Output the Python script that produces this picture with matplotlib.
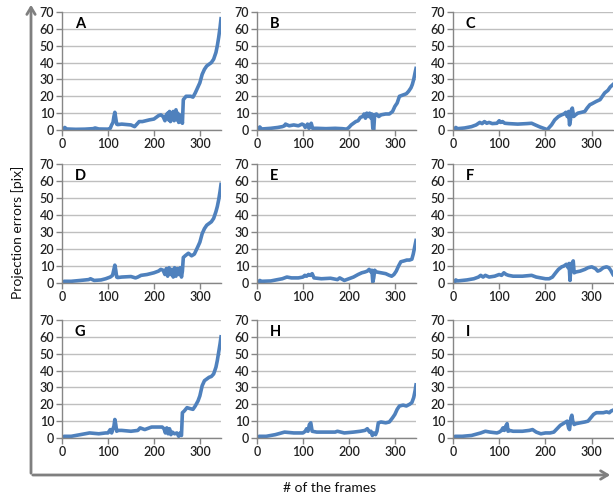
import matplotlib
matplotlib.use("Agg")
import matplotlib.pyplot as plt
from matplotlib.patches import FancyArrowPatch

# ---------------- data (frame index, projection error in pix) ----------------
a_x = [0, 4, 6, 10, 30, 50, 68, 72, 80, 100, 105, 108, 111, 113, 115, 117, 119, 121, 130, 150, 158, 163, 168, 175, 190, 200,
       205, 210, 215, 220, 224, 227, 230, 232, 234, 236, 238, 240, 242, 244, 246, 248, 250, 252, 254, 256, 258, 260, 262,
       264, 270, 280, 285, 290, 295, 300, 305, 310, 315, 320, 325, 330, 335, 338, 341, 344, 346]
a_y = [0.5, 0.8, 1.5, 0.6, 0.4, 0.5, 0.8, 1.2, 0.6, 0.5, 1.0, 3.0, 4.5, 8.0, 10.5, 7.0, 3.5, 3.2, 3.5, 3.0, 2.0, 3.5, 5.0, 5.0, 6.0, 6.5,
       7.5, 8.5, 9.0, 8.0, 5.5, 9.0, 10.0, 6.0, 11.0, 5.0, 10.0, 7.0, 11.0, 5.5, 9.0, 12.0, 6.0, 10.0, 4.5, 9.0, 5.0, 8.0, 4.0,
       18.0, 20.0, 20.0, 19.5, 22.0, 25.0, 28.0, 33.0, 36.0, 38.0, 39.0, 40.0, 42.0, 46.0, 50.0, 55.0, 61.0, 66.0]

b_x = [0, 4, 6, 10, 30, 45, 55, 60, 62, 70, 80, 90, 98, 102, 105, 110, 113, 116, 118, 121, 130, 150, 170, 185, 195, 200,
       205, 210, 215, 220, 225, 230, 233, 236, 239, 242, 245, 248, 250, 252, 254, 256, 260, 265, 270, 280, 288, 295, 300,
       305, 310, 315, 320, 325, 330, 335, 338, 341, 344, 346]
b_y = [0.5, 0.8, 1.8, 0.6, 1.0, 1.5, 2.0, 2.5, 3.5, 2.5, 3.0, 2.5, 3.5, 3.0, 1.5, 3.5, 1.0, 3.0, 4.0, 1.0, 1.0, 0.8, 1.0, 0.8, 0.5, 1.5,
       3.0, 4.0, 5.0, 5.5, 7.5, 8.0, 9.5, 7.0, 10.0, 8.0, 10.0, 7.0, 9.5, 1.0, 0.0, 9.0, 9.5, 8.0, 9.0, 9.5, 9.5, 11.0, 14.0,
       16.0, 20.0, 20.5, 21.0, 21.5, 23.0, 25.0, 27.0, 30.0, 34.0, 36.5]

c_x = [0, 4, 6, 10, 25, 40, 50, 58, 63, 68, 73, 78, 85, 95, 100, 103, 107, 112, 120, 140, 160, 170, 178, 188, 198, 204,
       208, 213, 220, 228, 235, 240, 244, 247, 250, 252, 254, 256, 258, 261, 265, 270, 278, 285, 290, 296, 300, 310, 318,
       323, 328, 335, 340, 346]
c_y = [0.5, 0.8, 1.5, 0.8, 1.2, 2.0, 3.0, 4.5, 3.8, 5.0, 4.0, 4.5, 3.8, 4.0, 5.5, 4.5, 5.0, 4.0, 3.8, 3.5, 3.8, 4.0, 3.0, 1.8, 0.8, 0.2,
       1.5, 3.0, 6.0, 8.0, 9.0, 9.5, 10.5, 8.0, 11.0, 3.0, 6.0, 12.0, 13.0, 8.0, 9.0, 10.0, 10.5, 11.0, 13.0, 15.0, 15.5, 17.0,
       18.0, 20.0, 22.0, 23.5, 25.5, 27.0]

d_x = [0, 5, 20, 40, 58, 62, 70, 85, 95, 100, 105, 110, 113, 115, 117, 119, 121, 130, 150, 160, 165, 172, 185, 200, 210,
       215, 220, 224, 227, 230, 233, 236, 239, 242, 245, 248, 251, 254, 257, 260, 262, 264, 268, 275, 282, 288, 295, 300,
       305, 310, 315, 320, 325, 330, 335, 338, 341, 344, 346]
d_y = [0.5, 1.0, 1.0, 1.5, 2.0, 2.5, 1.5, 1.8, 2.5, 3.0, 3.5, 4.5, 8.0, 10.5, 7.5, 3.5, 3.2, 3.5, 3.8, 3.0, 3.5, 4.5, 5.0, 6.0, 7.0,
       8.0, 7.5, 5.0, 8.5, 4.0, 9.0, 5.0, 8.0, 3.5, 9.0, 4.0, 8.5, 5.0, 9.0, 3.5, 7.0, 15.0, 16.0, 17.5, 16.0, 17.0, 21.0,
       24.0, 29.0, 32.0, 34.0, 35.0, 36.0, 38.0, 42.0, 45.0, 49.0, 54.0, 58.0]

e_x = [0, 4, 6, 10, 30, 45, 55, 60, 65, 75, 90, 100, 104, 108, 112, 116, 120, 124, 140, 160, 175, 180, 190, 200, 210,
       220, 228, 235, 240, 244, 248, 250, 252, 254, 256, 260, 270, 280, 288, 293, 298, 303, 308, 313, 320, 326, 332, 337,
       340, 343, 346]
e_y = [0.5, 0.8, 1.5, 1.0, 1.2, 2.0, 2.5, 3.0, 3.5, 3.0, 3.0, 3.5, 4.5, 4.0, 5.0, 4.5, 5.5, 3.0, 2.5, 2.8, 2.0, 3.0, 1.5, 2.5, 3.5,
       5.0, 6.0, 6.5, 7.0, 8.0, 6.5, 7.5, 0.5, 3.0, 7.5, 6.5, 6.0, 5.5, 4.5, 4.0, 5.0, 7.0, 10.0, 12.5, 13.0, 13.5, 13.5,
       14.0, 17.0, 21.0, 25.0]

f_x = [0, 4, 6, 10, 30, 45, 55, 60, 65, 70, 78, 90, 100, 105, 110, 115, 120, 130, 150, 170, 180, 190, 200, 208, 215,
       222, 228, 235, 240, 245, 249, 251, 253, 255, 258, 260, 262, 266, 275, 285, 292, 300, 308, 313, 318, 325, 332, 337,
       341, 346]
f_y = [0.5, 0.8, 1.8, 1.2, 1.8, 2.5, 3.5, 4.5, 3.5, 4.5, 3.5, 4.0, 5.0, 4.5, 6.0, 5.0, 4.5, 4.0, 4.0, 4.5, 3.5, 3.0, 2.5, 2.5, 3.5,
       6.0, 8.0, 9.5, 10.0, 11.0, 9.0, 11.5, 1.5, 10.0, 12.0, 13.0, 6.0, 6.5, 7.0, 8.0, 9.0, 9.5, 8.5, 7.0, 7.5, 9.0, 9.5,
       9.0, 7.5, 5.0]

g_x = [0, 5, 20, 40, 60, 80, 95, 100, 105, 108, 111, 113, 115, 117, 119, 122, 130, 150, 165, 170, 180, 195, 210, 218,
       222, 225, 228, 231, 234, 237, 240, 245, 250, 254, 257, 260, 262, 266, 272, 278, 285, 290, 296, 300, 305, 310, 315,
       320, 325, 330, 335, 338, 341, 344, 346]
g_y = [0.5, 1.0, 1.0, 2.0, 3.0, 2.5, 3.0, 3.0, 5.0, 3.0, 5.5, 7.0, 11.0, 8.0, 4.0, 4.5, 4.5, 4.0, 4.5, 6.0, 5.0, 6.5, 6.5, 6.5,
       5.5, 3.0, 6.0, 2.5, 5.5, 2.0, 3.5, 2.5, 3.0, 1.0, 3.0, 1.5, 15.0, 16.0, 18.0, 17.5, 17.0, 19.0, 22.0, 25.0, 31.0,
       34.0, 35.0, 36.0, 36.5, 38.0, 42.0, 46.0, 51.0, 56.0, 60.0]

h_x = [0, 5, 20, 40, 60, 80, 100, 105, 108, 111, 114, 117, 120, 130, 150, 170, 175, 190, 210, 225, 235, 240, 245, 248,
       251, 254, 258, 261, 264, 270, 280, 288, 295, 300, 305, 310, 318, 325, 332, 337, 341, 344, 346]
h_y = [0.5, 1.0, 1.0, 2.0, 3.5, 3.0, 3.0, 4.0, 5.5, 4.0, 8.0, 9.0, 4.0, 3.5, 3.5, 3.5, 4.0, 3.0, 3.5, 4.0, 4.5, 5.5, 3.5, 4.0,
       1.5, 3.0, 2.0, 4.0, 9.0, 9.5, 9.0, 9.5, 12.0, 14.0, 17.0, 19.0, 19.5, 19.0, 20.0, 21.0, 24.0, 28.0, 31.5]

i_x = [0, 5, 20, 40, 60, 70, 80, 95, 100, 105, 108, 111, 114, 117, 119, 122, 130, 150, 165, 172, 180, 190, 200, 210,
       218, 225, 232, 238, 244, 247, 250, 252, 255, 257, 259, 262, 266, 275, 285, 292, 298, 304, 310, 318, 325, 332, 338,
       342, 346]
i_y = [0.5, 1.0, 1.0, 1.5, 3.0, 4.0, 3.5, 3.0, 3.5, 4.5, 6.0, 4.5, 7.0, 8.5, 4.0, 4.5, 4.0, 4.0, 4.5, 5.0, 3.5, 2.5, 3.0, 3.0,
       3.5, 5.5, 7.5, 8.5, 9.5, 10.0, 6.0, 5.0, 12.0, 13.5, 10.0, 8.0, 8.5, 9.0, 9.5, 10.0, 12.0, 14.0, 15.0, 15.0, 15.0,
       15.5, 15.0, 16.0, 16.5]

panel_labels = ["A", "B", "C", "D", "E", "F", "G", "H", "I"]
series_x = [a_x, b_x, c_x, d_x, e_x, f_x, g_x, h_x, i_x]
series_y = [a_y, b_y, c_y, d_y, e_y, f_y, g_y, h_y, i_y]
x_ticks = [0, 100, 200, 300]
y_ticks = [0, 10, 20, 30, 40, 50, 60, 70]
x_title = "# of the frames"
y_title = "Projection errors [pix]"

# ---------------- layout ----------------
W, H = 614, 500
plt.rcParams['font.family'] = ['Lato', 'DejaVu Sans']
fig = plt.figure(figsize=(W / 100, H / 100), dpi=100)

col_left = [62, 257, 453]
col_right = [221, 416, 613]
row_top = [12, 164, 320]
row_bot = [130, 283, 438]

line_color = "#4F81BD"
grid_color = "#BFBFBF"
axis_color = "#868686"

for k in range(9):
    r, c = divmod(k, 3)
    l, rt = col_left[c], col_right[c]
    t, b = row_top[r], row_bot[r]
    ax = fig.add_axes([l / W, 1 - b / H, (rt - l) / W, (b - t) / H])
    ax.plot(series_x[k], series_y[k], color=line_color, lw=2.6, solid_joinstyle="round")
    ax.set_xlim(0, 346)
    ax.set_ylim(0, 70)
    ax.set_xticks(x_ticks)
    ax.set_yticks(y_ticks)
    ax.yaxis.grid(True, color=grid_color, lw=1.0)
    ax.set_axisbelow(True)
    for s in ["top", "right"]:
        ax.spines[s].set_visible(False)
    ax.spines["left"].set_color(axis_color)
    ax.spines["bottom"].set_color(axis_color)
    ax.spines["left"].set_linewidth(1.0)
    ax.spines["bottom"].set_linewidth(1.0)
    ax.tick_params(axis="both", colors=axis_color, labelcolor="#222222", labelsize=9, length=4, width=1.0, pad=2)
    ax.tick_params(axis="y", pad=1.5)
    ax.text(0.08, 0.96, panel_labels[k], transform=ax.transAxes, ha="left", va="top",
            fontsize=10.5, fontweight="bold", color="#000000")
    for lab in ax.get_xticklabels() + ax.get_yticklabels():
        lab.set_fontweight("semibold")

# big gray arrows
arr_color = "#7F7F7F"
fig.add_artist(FancyArrowPatch((31 / W, 1 - 476 / H), (31 / W, 1 - 2 / H), transform=fig.transFigure,
                               arrowstyle="->,head_length=5,head_width=3", color=arr_color, lw=2.0))
fig.add_artist(FancyArrowPatch((30 / W, 1 - 475 / H), (613 / W, 1 - 475 / H), transform=fig.transFigure,
                               arrowstyle="->,head_length=5,head_width=3", color=arr_color, lw=2.0))

fig.text(18 / W, 1 - 232 / H, y_title, rotation=90, ha="center", va="center", fontsize=10, color="#111111")
fig.text(330 / W, 1 - 488 / H, x_title, ha="center", va="center", fontsize=10, color="#111111")

fig.savefig("out.png", dpi=100)
